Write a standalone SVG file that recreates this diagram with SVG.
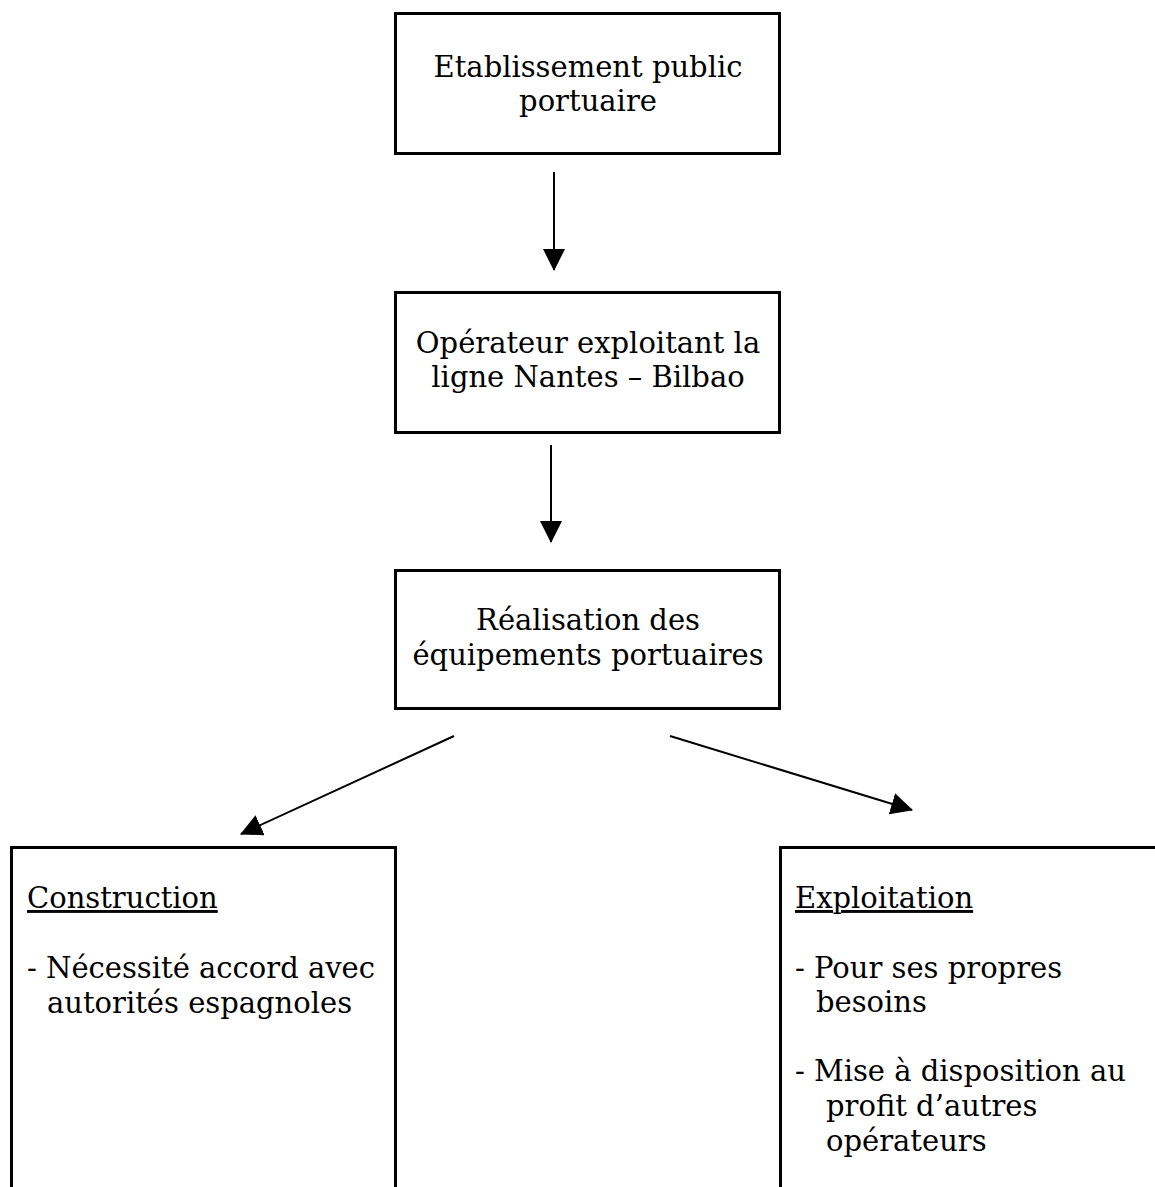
<svg xmlns="http://www.w3.org/2000/svg" width="1155" height="1187" viewBox="0 0 1155 1187">
<style>
.box{fill:#fff;stroke:#000;stroke-width:3}
.t{font-family:"DejaVu Serif","Liberation Serif",serif;font-size:29px;fill:#000}
.c{text-anchor:middle}
.u{text-decoration:underline}
.conn{stroke:#000;stroke-width:2;fill:none;marker-end:url(#ah)}
</style>
<defs>
<marker id="ah" markerUnits="userSpaceOnUse" markerWidth="22" markerHeight="22" refX="21" refY="11" orient="auto" viewBox="0 0 22 22">
<path d="M0,0 L22,11 L0,22 Z" fill="#000"/>
</marker>
</defs>
<rect width="1155" height="1187" fill="#fff"/>
<g id="connectors">
<line class="conn" x1="554" y1="172" x2="554" y2="270"/>
<line class="conn" x1="551" y1="445" x2="551" y2="542"/>
<line class="conn" x1="454" y1="736" x2="241" y2="834"/>
<line class="conn" x1="670" y1="736" x2="912" y2="810"/>
</g>
<g id="node-etablissement">
<rect class="box" x="395.5" y="13.5" width="384" height="140"/>
<text class="t c" x="588" y="77">Etablissement public</text>
<text class="t c" x="588" y="111">portuaire</text>
</g>
<g id="node-operateur">
<rect class="box" x="395.5" y="292.5" width="384" height="140"/>
<text class="t c" x="588" y="353">Opérateur exploitant la</text>
<text class="t c" x="588" y="387">ligne Nantes – Bilbao</text>
</g>
<g id="node-realisation">
<rect class="box" x="395.5" y="570.5" width="384" height="138"/>
<text class="t c" x="588" y="630">Réalisation des</text>
<text class="t c" x="588" y="665">équipements portuaires</text>
</g>
<g id="node-construction">
<rect class="box" x="11.5" y="847.5" width="384" height="400"/>
<text class="t u" x="27" y="908">Construction</text>
<text class="t" x="27" y="978">- Nécessité accord avec</text>
<text class="t" x="47" y="1013">autorités espagnoles</text>
</g>
<g id="node-exploitation">
<rect class="box" x="780.5" y="847.5" width="400" height="400"/>
<text class="t u" x="795" y="908">Exploitation</text>
<text class="t" x="795" y="978">- Pour ses propres</text>
<text class="t" x="816" y="1012">besoins</text>
<text class="t" x="795" y="1081">- Mise à disposition au</text>
<text class="t" x="826" y="1116">profit d’autres</text>
<text class="t" x="826" y="1151">opérateurs</text>
</g>
</svg>
